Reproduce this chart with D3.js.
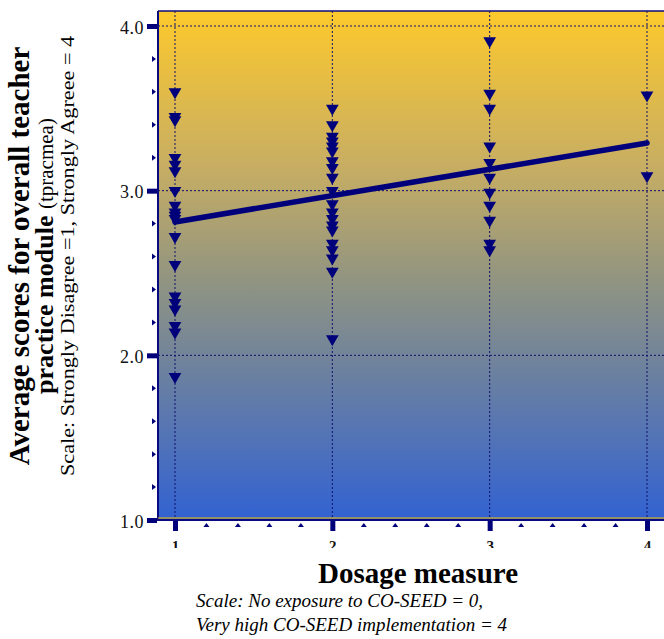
<!DOCTYPE html>
<html>
<head>
<meta charset="utf-8">
<script src="https://cdn.jsdelivr.net/npm/d3@7"></script>
<style>
  body { margin: 0; background: #fff; }
  svg text { font-family: "Liberation Serif", "DejaVu Serif", serif; }
</style>
</head>
<body>
<div id="chart"></div>
<script>
"use strict";

// dosage level of each school group, and the scores
var dosage1 = [3.60, 3.45, 3.43, 3.20, 3.16, 3.12, 3.00, 2.91, 2.87, 2.85, 2.83,
               2.72, 2.55, 2.36, 2.32, 2.28, 2.18, 2.14, 1.87];
var dosage2 = [3.50, 3.40, 3.33, 3.30, 3.27, 3.24, 3.18, 3.14, 3.08, 3.00, 2.92,
               2.87, 2.83, 2.79, 2.76, 2.68, 2.64, 2.59, 2.51, 2.10];
var dosage3 = [3.91, 3.59, 3.50, 3.27, 3.17, 3.08, 2.99, 2.91, 2.82, 2.68, 2.64];
var dosage4 = [3.58, 3.09];

var fitX = [1, 4];
var fitY = [2.81, 3.29];

var xTicks = [1, 2, 3, 4];
var yTicks = [1, 2, 3, 4];

var width = 664, height = 639;
var margin = {top: 11, right: 0, bottom: 119, left: 158};

var svg = d3.select('#chart').append('svg')
    .attr('width', width)
    .attr('height', height);

var x = d3.scaleLinear().domain([1, 4]).range([175, 647]);
var y = d3.scaleLinear().domain([1, 4]).range([520, 26]);

var defs = svg.append('defs');
var grad = defs.append('linearGradient')
    .attr('id', 'bg')
    .attr('x1', 0).attr('y1', 0).attr('x2', 0).attr('y2', 1);
grad.append('stop').attr('offset', '0%').attr('stop-color', '#fdc92c');
grad.append('stop').attr('offset', '30%').attr('stop-color', '#c8ae62');
grad.append('stop').attr('offset', '55%').attr('stop-color', '#8c9284');
grad.append('stop').attr('offset', '100%').attr('stop-color', '#3262d2');

// tick labels of the x axis are cut off half way in the original
defs.append('clipPath').attr('id', 'tickclip')
  .append('rect').attr('x', 0).attr('y', 0).attr('width', width).attr('height', 27);

// plot background
svg.append('rect')
    .attr('x', margin.left)
    .attr('y', margin.top)
    .attr('width', width - margin.left)
    .attr('height', y(1) - margin.top)
    .attr('fill', 'url(#bg)');

// frame
svg.append('line')
    .attr('x1', margin.left).attr('x2', width)
    .attr('y1', margin.top).attr('y2', margin.top)
    .attr('stroke', '#0a0a80').attr('stroke-width', 1.5);
svg.append('line')
    .attr('x1', margin.left).attr('x2', margin.left)
    .attr('y1', margin.top).attr('y2', y(1) + 1)
    .attr('stroke', '#0a0a80').attr('stroke-width', 2);
svg.append('line')
    .attr('x1', margin.left).attr('x2', width)
    .attr('y1', y(1) - 2).attr('y2', y(1) - 2)
    .attr('stroke', '#f5c000').attr('stroke-width', 1.2);
svg.append('line')
    .attr('x1', margin.left).attr('x2', width)
    .attr('y1', y(1)).attr('y2', y(1))
    .attr('stroke', '#0a0a80').attr('stroke-width', 2);

// dotted grid
svg.append('g').selectAll('line')
    .data(yTicks.filter(function (d) { return d > 1; }))
    .enter().append('line')
    .attr('x1', margin.left).attr('x2', width)
    .attr('y1', function (d) { return y(d); })
    .attr('y2', function (d) { return y(d); })
    .attr('stroke', '#10106a').attr('stroke-width', 1)
    .attr('stroke-dasharray', '2,2');

svg.append('g').selectAll('line')
    .data(xTicks)
    .enter().append('line')
    .attr('x1', function (d) { return x(d); })
    .attr('x2', function (d) { return x(d); })
    .attr('y1', margin.top).attr('y2', y(1))
    .attr('stroke', '#10106a').attr('stroke-width', 1)
    .attr('stroke-dasharray', '2,2');

// y axis
var yAxis = d3.axisLeft(y)
    .tickValues(yTicks)
    .tickSize(10)
    .tickPadding(3)
    .tickFormat(d3.format('.1f'));

var gy = svg.append('g')
    .attr('transform', 'translate(' + (margin.left - 1) + ',0)')
    .call(yAxis);
gy.select('.domain').remove();
gy.selectAll('.tick line').attr('stroke', '#00007a').attr('stroke-width', 5);
gy.selectAll('.tick text')
    .attr('fill', '#111')
    .style('font-size', '18px')
    .style('letter-spacing', '0.5px')
    .attr('dy', '0.4em');

var yMinor = d3.range(1, 4, 0.2).filter(function (d) {
    return Math.abs(d - Math.round(d)) > 0.01;
});
svg.append('g').selectAll('path')
    .data(yMinor)
    .enter().append('path')
    .attr('d', 'M0,-3L4,0L0,3Z')
    .attr('transform', function (d) {
        return 'translate(' + (margin.left - 6) + ',' + y(d) + ')';
    })
    .attr('fill', '#00007a');

// x axis
var xAxis = d3.axisBottom(x)
    .tickValues(xTicks)
    .tickSize(10)
    .tickPadding(9)
    .tickFormat(d3.format('d'));

var gx = svg.append('g')
    .attr('transform', 'translate(0,' + (y(1) + 1) + ')')
    .attr('clip-path', 'url(#tickclip)');
gx.call(xAxis);
gx.select('.domain').remove();
gx.selectAll('.tick line').attr('stroke', '#00007a').attr('stroke-width', 5);
gx.selectAll('.tick text')
    .attr('fill', '#111')
    .style('font-size', '15px')
    .style('font-weight', 'bold');

var xMinor = d3.range(1, 4, 0.2).filter(function (d) {
    return Math.abs(d - Math.round(d)) > 0.01;
});
svg.append('g').selectAll('path')
    .data(xMinor)
    .enter().append('path')
    .attr('d', 'M-3,4L0,0L3,4Z')
    .attr('transform', function (d) {
        return 'translate(' + x(d) + ',' + (y(1) + 3) + ')';
    })
    .attr('fill', '#00007a');

// points
var points = [];
[[1, dosage1], [2, dosage2], [3, dosage3], [4, dosage4]].forEach(function (g) {
    g[1].forEach(function (v) { points.push({x: g[0], y: v}); });
});

var tri = d3.symbol().type(d3.symbolTriangle).size(70);
svg.append('g').selectAll('path')
    .data(points)
    .enter().append('path')
    .attr('d', tri)
    .attr('transform', function (d) {
        return 'translate(' + x(d.x) + ',' + y(d.y) + ') rotate(180)';
    })
    .attr('fill', '#00007a');

// fit line
var fit = fitX.map(function (d, i) { return [d, fitY[i]]; });
svg.append('path')
    .datum(fit)
    .attr('d', d3.line()
        .x(function (d) { return x(d[0]); })
        .y(function (d) { return y(d[1]); }))
    .attr('fill', 'none')
    .attr('stroke', '#00007a')
    .attr('stroke-width', 5.5)
    .attr('stroke-linecap', 'round');

// y title
var yt = svg.append('g')
    .attr('transform', 'translate(0,' + 256 + ') rotate(-90)');
yt.append('text')
    .attr('x', 0).attr('y', 29)
    .attr('text-anchor', 'middle')
    .style('font-size', '29px')
    .style('font-weight', 'bold')
    .text('Average scores for overall teacher');
var l2 = yt.append('text')
    .attr('x', 0).attr('y', 53)
    .attr('text-anchor', 'middle');
l2.append('tspan')
    .style('font-size', '26px')
    .style('font-weight', 'bold')
    .text('practice module ');
l2.append('tspan')
    .style('font-size', '21px')
    .text('(tpracmea)');
yt.append('text')
    .attr('x', 0).attr('y', 74)
    .attr('text-anchor', 'middle')
    .attr('textLength', 440)
    .attr('lengthAdjust', 'spacingAndGlyphs')
    .style('font-size', '18px')
    .text('Scale: Strongly Disagree =1, Strongly Agreee = 4');

// x title
svg.append('text')
    .attr('x', 418).attr('y', 583)
    .attr('text-anchor', 'middle')
    .style('font-size', '29px')
    .style('font-weight', 'bold')
    .text('Dosage measure');
svg.append('text')
    .attr('x', 196).attr('y', 607)
    .style('font-size', '19px')
    .style('font-style', 'italic')
    .text('Scale: No exposure to CO-SEED = 0,');
svg.append('text')
    .attr('x', 196).attr('y', 631)
    .style('font-size', '19px')
    .style('font-style', 'italic')
    .text('Very high CO-SEED implementation = 4');
</script>
</body>
</html>
